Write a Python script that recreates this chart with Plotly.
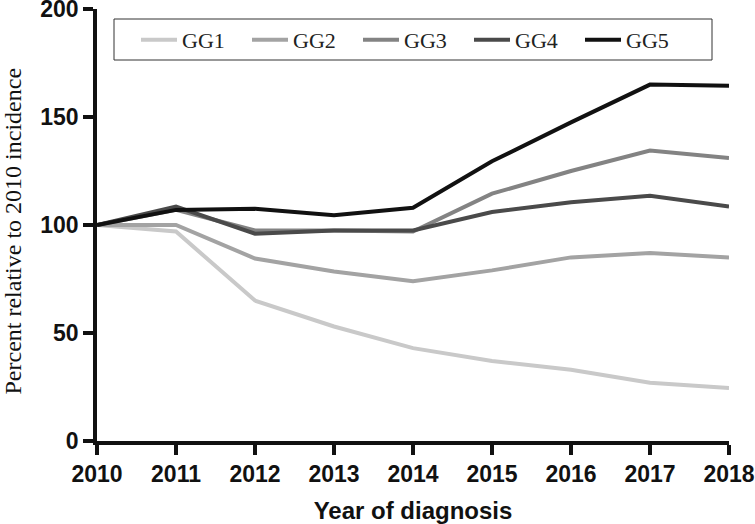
import plotly.graph_objects as go

years = [2010, 2011, 2012, 2013, 2014, 2015, 2016, 2017, 2018]
gg1 = [100, 97, 65, 53, 43, 37, 33, 27, 24.5]
gg2 = [100, 100, 84.5, 78.5, 74, 79, 85, 87, 85]
gg3 = [100, 107, 97.5, 97.5, 97, 114.5, 125, 134.5, 131]
gg4 = [100, 108.5, 96, 97.5, 97.5, 106, 110.5, 113.5, 108.5]
gg5 = [100, 107, 107.5, 104.5, 108, 129.5, 147.5, 165, 164.5]
series_names = ["GG1", "GG2", "GG3", "GG4", "GG5"]
series_vals = [gg1, gg2, gg3, gg4, gg5]
colors = ["#c9c9c9", "#a3a3a3", "#838383", "#4a4a4a", "#111111"]
y_ticks = [0, 50, 100, 150, 200]
y_title = "Percent relative to 2010 incidence"
x_title = "Year of diagnosis"

fig = go.Figure()
for name, vals, c in zip(series_names, series_vals, colors):
    fig.add_trace(go.Scatter(x=years, y=vals, mode="lines", name=name,
                             line=dict(color=c, width=4)))

L, R, T, B = 97, 26, 9, 83
W, H = 755, 524
pw, ph = W - L - R, H - T - B

# legend frame (decoration)
box = dict(x0=114, x1=712, y0=19, y1=60)
fig.add_shape(type="rect", xref="paper", yref="paper",
              x0=(box["x0"] - L) / pw, x1=(box["x1"] - L) / pw,
              y0=(H - B - box["y1"]) / ph, y1=(H - B - box["y0"]) / ph,
              line=dict(color="#333333", width=1), fillcolor="rgba(0,0,0,0)", layer="above")

# y-axis title as annotation (slightly below plot centre, as in the reference)
fig.add_annotation(text=y_title, xref="paper", yref="paper",
                   x=(12 - L) / pw, y=(H - B - 231.5) / ph,
                   xanchor="center", yanchor="middle", textangle=-90, showarrow=False,
                   font=dict(family="Liberation Serif", size=24, color="#111"))

fig.update_layout(
    width=W, height=H,
    margin=dict(l=L, r=R, t=T, b=B, autoexpand=False),
    paper_bgcolor="white", plot_bgcolor="white",
    showlegend=True,
    legend=dict(orientation="h", x=(136 - L) / pw, y=(H - B - 40) / ph,
                xanchor="left", yanchor="middle",
                bgcolor="rgba(0,0,0,0)", borderwidth=0, itemwidth=36,
                font=dict(family="Liberation Serif", size=22, color="#222"),
                entrywidth=60, entrywidthmode="pixels", tracegroupgap=0),
    xaxis=dict(range=[2010, 2018], tickvals=years, showline=True, linecolor="#111",
               linewidth=3.5, ticks="outside", ticklen=10, tickwidth=3.5, tickcolor="#111",
               showgrid=False, zeroline=False, ticklabeloverflow="allow", automargin=False,
               tickfont=dict(family="Liberation Sans", size=23, color="#111", weight="bold"),
               title=dict(text=x_title, standoff=18,
                          font=dict(family="Liberation Sans", size=24, color="#111", weight="bold"))),
    yaxis=dict(range=[0, 200], tickvals=y_ticks, showline=True, linecolor="#111",
               linewidth=3.5, ticks="outside", ticklen=10, tickwidth=3.5, tickcolor="#111",
               showgrid=False, zeroline=False, ticklabeloverflow="allow", automargin=False,
               tickfont=dict(family="Liberation Sans", size=23, color="#111", weight="bold")),
)

fig.write_html("out.html", config={"displayModeBar": False},
               post_script="document.body.style.margin='0';document.body.style.overflow='hidden';")
